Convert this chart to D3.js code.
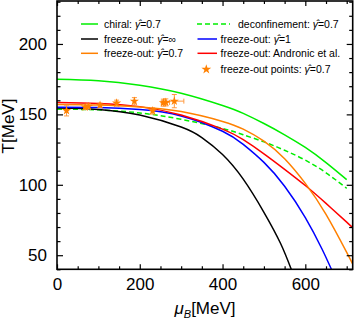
<!DOCTYPE html>
<html><head><meta charset="utf-8">
<script src="https://cdn.jsdelivr.net/npm/d3@7"></script>
<style>
html,body{margin:0;padding:0;background:#fff;}
svg{display:block;font-family:"Liberation Sans",Arial,sans-serif;}
</style></head>
<body><svg id="c" width="357" height="321"></svg>
<script>
// ---- data ----
const chiralMu  = [0, 100, 200, 300, 400, 450, 500, 550, 600, 650, 700];
const chiralT   = [175, 173.9, 170.7, 165, 156.3, 150.7, 143.5, 135.5, 126.5, 115.8, 103.7];
const deconfMu  = [0, 100, 200, 300, 400, 450, 500, 550, 600, 650, 700];
const deconfT   = [153.7, 153.2, 151, 146.5, 140, 135.5, 130.5, 124.5, 117.5, 108.5, 97.5];
const foInfMu   = [0, 100, 200, 300, 350, 400, 450, 500, 540, 566];
const foInfT    = [154.5, 153.5, 149.5, 141, 133.5, 121.5, 104, 80.5, 58.5, 40];
const fo1Mu     = [0, 100, 200, 300, 400, 450, 500, 550, 600, 640, 663];
const fo1T      = [155, 154.8, 153.4, 148.9, 138, 128.7, 115.9, 99, 76.7, 54.6, 40];
const fo07Mu    = [0, 100, 200, 300, 400, 450, 500, 550, 600, 650, 700, 714];
const fo07T     = [157, 156.6, 155.2, 152, 145, 139.5, 131, 118.5, 101, 79, 52, 44];
const andrMu    = [0, 100, 200, 300, 400, 450, 500, 550, 600, 650, 700, 714];
const andrT     = [158.5, 157.8, 155.5, 149.5, 139.5, 132, 122, 111, 99.5, 86.8, 73.5, 69.8];
const ptMu      = [23, 68, 76, 104, 144, 187, 231, 257, 263, 283.5];
const ptT       = [152.7, 155.2, 155.6, 156.5, 158, 159.3, 152.5, 158.3, 158.5, 159.4];
const ptTErr    = [3.8, 1.8, 1.8, 1.5, 2.1, 2.6, 2.3, 2.5, 2.5, 4.7];
const ptMuErr   = [0, 0, 0, 0, 0, 0, 0, 5, 9, 23];
const xMajor = [0, 200, 400, 600];
const yMajor = [50, 100, 150, 200];

const svg = d3.select("#c");
const L = 57, R = 352.7, T = 1, B = 269.3;
const x = d3.scaleLinear().domain([0, 714.5]).range([L, R]);
const y = d3.scaleLinear().domain([40, 230.5]).range([B, T]);

const xMinor = d3.range(0, 715, 50).filter(v => !xMajor.includes(v));
const yMinor = d3.range(40, 231, 10).filter(v => !yMajor.includes(v));

svg.append("defs").append("clipPath").attr("id","clip")
  .append("rect").attr("x",L).attr("y",T).attr("width",R-L).attr("height",B-T);

const plot = svg.append("g").attr("clip-path","url(#clip)");
const line = d3.line().x(d=>x(d[0])).y(d=>y(d[1])).curve(d3.curveNatural);
const zip = (a,b)=>a.map((v,i)=>[v,b[i]]);

const curves = [
  {mu: chiralMu, t: chiralT, c:"#00ee00", dash:null},
  {mu: deconfMu, t: deconfT, c:"#00ee00", dash:"5,3"},
  {mu: foInfMu, t: foInfT, c:"#000000", dash:null},
  {mu: fo1Mu, t: fo1T, c:"#0000ff", dash:null},
  {mu: andrMu, t: andrT, c:"#ff0000", dash:null},
  {mu: fo07Mu, t: fo07T, c:"#ff8000", dash:null},
];
curves.forEach(cv=>{
  plot.append("path").attr("d", line(zip(cv.mu, cv.t)))
    .attr("fill","none").attr("stroke",cv.c).attr("stroke-width",1.5)
    .attr("stroke-dasharray",cv.dash);
});

// error bars + stars
const eb = plot.append("g").attr("stroke","#ff9a40").attr("stroke-width",1).attr("fill","none");
ptMu.forEach((m,i)=>{
  const cx = x(m), cy = y(ptT[i]);
  const y1 = y(ptT[i]+ptTErr[i]), y2 = y(ptT[i]-ptTErr[i]);
  eb.append("line").attr("x1",cx).attr("x2",cx).attr("y1",y1).attr("y2",y2);
  eb.append("line").attr("x1",cx-2.5).attr("x2",cx+2.5).attr("y1",y1).attr("y2",y1);
  eb.append("line").attr("x1",cx-2.5).attr("x2",cx+2.5).attr("y1",y2).attr("y2",y2);
  if (ptMuErr[i]>0){
    const x1 = x(m-ptMuErr[i]), x2 = x(m+ptMuErr[i]);
    eb.append("line").attr("x1",x1).attr("x2",x2).attr("y1",cy).attr("y2",cy);
    eb.append("line").attr("x1",x1).attr("x2",x1).attr("y1",cy-2.5).attr("y2",cy+2.5);
    eb.append("line").attr("x1",x2).attr("x2",x2).attr("y1",cy-2.5).attr("y2",cy+2.5);
  }
});
const star = d3.symbol().type(d3.symbolStar).size(26);
ptMu.forEach((m,i)=>{
  plot.append("path").attr("d",star()).attr("transform",`translate(${x(m)},${y(ptT[i])})`)
    .attr("fill","#ff8000");
});

// axes
function styleAxis(g){
  g.select(".domain").remove();
  g.selectAll(".tick line").attr("stroke","#000").attr("stroke-width",1.2);
  g.selectAll(".tick text").attr("fill","#000").attr("font-size","17px")
    .attr("font-family","'Liberation Sans',Arial,sans-serif");
}
svg.append("g").attr("transform",`translate(0,${B})`)
  .call(d3.axisBottom(x).tickValues(xMajor).tickSizeInner(-5).tickSizeOuter(0).tickPadding(9).tickFormat(d3.format("d"))).call(styleAxis);
svg.append("g").attr("transform",`translate(0,${B})`)
  .call(d3.axisBottom(x).tickValues(xMinor).tickSizeInner(-3).tickSizeOuter(0).tickFormat("")).call(styleAxis);
svg.append("g").attr("transform",`translate(0,${T})`)
  .call(d3.axisTop(x).tickValues(xMajor).tickSizeInner(-5).tickSizeOuter(0).tickFormat("")).call(styleAxis);
svg.append("g").attr("transform",`translate(0,${T})`)
  .call(d3.axisTop(x).tickValues(xMinor).tickSizeInner(-3).tickSizeOuter(0).tickFormat("")).call(styleAxis);
svg.append("g").attr("transform",`translate(${L},0)`)
  .call(d3.axisLeft(y).tickValues(yMajor).tickSizeInner(-6).tickSizeOuter(0).tickPadding(10).tickFormat(d3.format("d"))).call(styleAxis);
svg.append("g").attr("transform",`translate(${L},0)`)
  .call(d3.axisLeft(y).tickValues(yMinor).tickSizeInner(-3.5).tickSizeOuter(0).tickFormat("")).call(styleAxis);
svg.append("g").attr("transform",`translate(${R},0)`)
  .call(d3.axisRight(y).tickValues(yMajor).tickSizeInner(-6).tickSizeOuter(0).tickFormat("")).call(styleAxis);
svg.append("g").attr("transform",`translate(${R},0)`)
  .call(d3.axisRight(y).tickValues(yMinor).tickSizeInner(-3.5).tickSizeOuter(0).tickFormat("")).call(styleAxis);

svg.append("rect").attr("x",L).attr("y",T).attr("width",R-L).attr("height",B-T)
  .attr("fill","none").attr("stroke","#000").attr("stroke-width",1.6);

// axis labels
svg.append("text").attr("transform","translate(14,126) rotate(-90)").attr("text-anchor","middle")
  .attr("font-size","17px").text("T[MeV]");
const xl = svg.append("text").attr("x",205).attr("y",314).attr("text-anchor","middle").attr("font-size","17px");
xl.append("tspan").attr("font-style","italic").text("μ");
xl.append("tspan").attr("font-style","italic").attr("font-size","11px").attr("dy",4).text("B");
xl.append("tspan").attr("dy",-4).text("[MeV]");

// legend
const leg = svg.append("g").attr("font-size","10.5px");
function legText(xp, yp, pre, val){
  const t = leg.append("text").attr("x",xp).attr("y",yp+3.8);
  t.append("tspan").text(pre);
  t.append("tspan").attr("font-style","italic").text("γ\u0302");
  t.append("tspan").text("=" + val);
}
const legItems = [
  {x0:81, x1:98, tx:104, y:24, c:"#00ee00", dash:null, pre:"chiral: ", val:"0.7"},
  {x0:81, x1:98, tx:104, y:39, c:"#000000", dash:null, pre:"freeze-out: ", val:"∞"},
  {x0:81, x1:98, tx:104, y:53.3, c:"#ff8000", dash:null, pre:"freeze-out: ", val:"0.7"},
  {x0:197, x1:230, tx:238, y:24, c:"#00ee00", dash:"5,3", pre:"deconfinement: ", val:"0.7"},
  {x0:197.5, x1:217, tx:220.5, y:39, c:"#0000ff", dash:null, pre:"freeze-out: ", val:"1"},
];
legItems.forEach(it=>{
  leg.append("line").attr("x1",it.x0).attr("x2",it.x1).attr("y1",it.y).attr("y2",it.y)
    .attr("stroke",it.c).attr("stroke-width",1.5).attr("stroke-dasharray",it.dash);
  legText(it.tx, it.y, it.pre, it.val);
});
leg.append("line").attr("x1",197.5).attr("x2",217).attr("y1",53.3).attr("y2",53.3)
  .attr("stroke","#ff0000").attr("stroke-width",1.5);
leg.append("text").attr("x",220.5).attr("y",53.3+3.8).text("freeze-out: Andronic et al.");
leg.append("path").attr("d",d3.symbol().type(d3.symbolStar).size(30)()).attr("transform","translate(206.3,69.3)").attr("fill","#ff8000");
legText(220.5, 69.3, "freeze-out points: ", "0.7");
</script></body></html>
